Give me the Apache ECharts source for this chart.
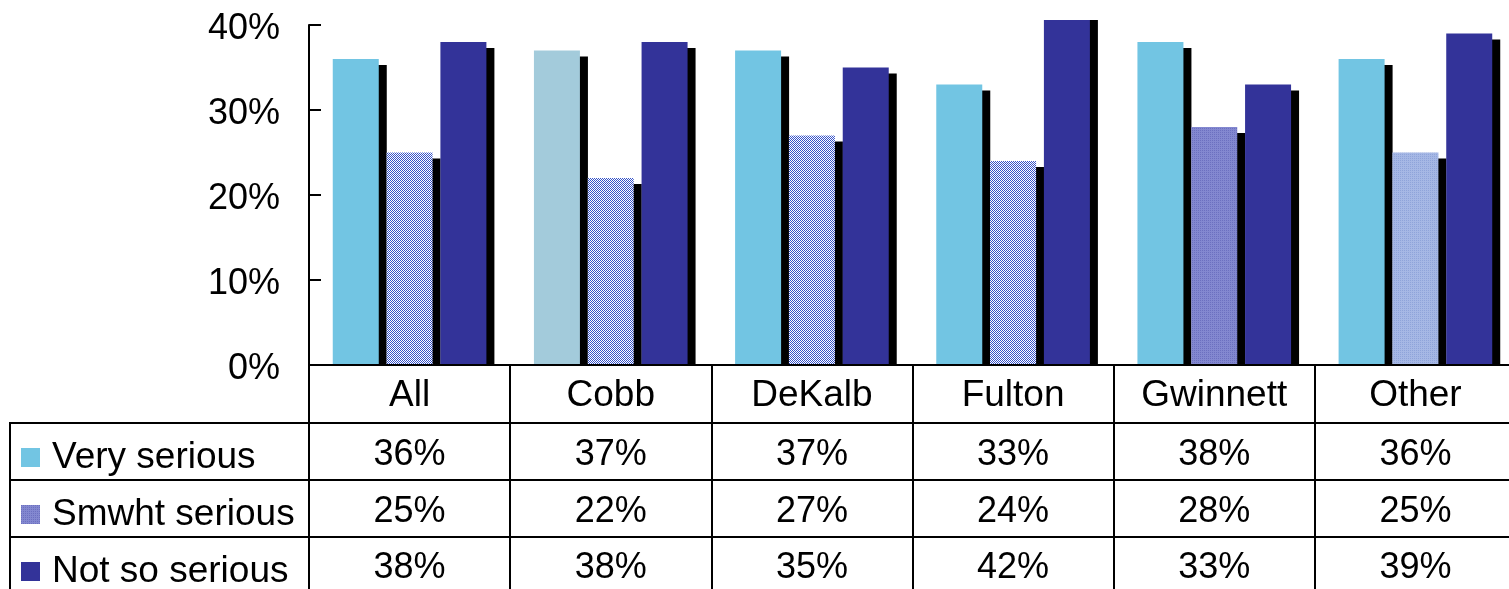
<!DOCTYPE html>
<html>
<head>
<meta charset="utf-8">
<script src="https://cdn.jsdelivr.net/npm/echarts@6/dist/echarts.min.js"></script>
<style>
html,body{margin:0;padding:0;background:#fff;}
#c{width:1509px;height:589px;}
</style>
</head>
<body>
<div id="c"></div>
<script>
const categories = ['All', 'Cobb', 'DeKalb', 'Fulton', 'Gwinnett', 'Other'];
const seriesNames = ['Very serious', 'Smwht serious', 'Not so serious'];
const verySerious = [36, 37, 37, 33, 38, 36];
const smwhtSerious = [25, 22, 27, 24, 28, 25];
const notSoSerious = [38, 38, 35, 42, 33, 39];
const yMin = 0, yMax = 40, yInterval = 10;

const FONT = "'Liberation Sans', Arial, sans-serif";

function pattern(c1, c2, c3, c4) {
  const cv = document.createElement('canvas');
  cv.width = 2; cv.height = 2;
  const ctx = cv.getContext('2d');
  ctx.fillStyle = c1; ctx.fillRect(0, 0, 1, 1);
  ctx.fillStyle = c2; ctx.fillRect(1, 0, 1, 1);
  ctx.fillStyle = c3; ctx.fillRect(0, 1, 1, 1);
  ctx.fillStyle = c4; ctx.fillRect(1, 1, 1, 1);
  return { image: cv, repeat: 'repeat' };
}
const checkBlue = pattern('#3552c8', '#ffffff', '#ffffff', '#3552c8');
const gridLav = pattern('#6c70c0', '#8388d0', '#8388d0', '#8388d0');
const gridLight = pattern('#8fa4da', '#a6b8e5', '#a6b8e5', '#a6b8e5');

const vsColors = ['#72c5e3', '#a3cbdb', '#72c5e3', '#72c5e3', '#72c5e3', '#72c5e3'];
const swColors = [checkBlue, checkBlue, checkBlue, checkBlue, gridLav, gridLight];
const nsColor = '#333399';

const shadow = { shadowColor: '#000', shadowOffsetX: 8, shadowOffsetY: 6, shadowBlur: 0 };

const chart = echarts.init(document.getElementById('c'), null, { renderer: 'canvas' });

const option = {
  animation: false,
  textStyle: { fontFamily: FONT },
  grid: { left: 309, top: 25, width: 1207, height: 340, containLabel: false, outerBoundsMode: 'none' },
  legend: {
    orient: 'vertical', left: 21, top: 429, height: 200, padding: 0, itemGap: 0,
    itemWidth: 19, itemHeight: 19, icon: 'rect', selectedMode: false,
    textStyle: { fontSize: 37, lineHeight: 57, color: '#000', fontFamily: FONT, padding: [0, 0, 0, 7] },
    itemStyle: { shadowBlur: 0, shadowOffsetX: 0, shadowOffsetY: 0, shadowColor: 'rgba(0,0,0,0)', borderWidth: 0 },
    data: [
      { name: seriesNames[0], itemStyle: { color: '#72c5e3' } },
      { name: seriesNames[1], itemStyle: { color: gridLav } },
      { name: seriesNames[2], itemStyle: { color: nsColor } }
    ]
  },
  xAxis: {
    type: 'category',
    data: categories,
    z: 10,
    axisLine: { show: true, lineStyle: { color: '#000', width: 2 } },
    axisTick: { show: true, alignWithLabel: false, interval: 0, length: 224, lineStyle: { color: '#000', width: 2 } },
    axisLabel: {
      interval: 0, margin: 0, color: '#000', fontFamily: FONT,
      formatter: function (v, i) {
        return ['{c|' + v + '}', '{n|' + verySerious[i] + '%}', '{n|' + smwhtSerious[i] + '%}', '{n|' + notSoSerious[i] + '%}'].join('\n');
      },
      rich: {
        c: { fontSize: 37, lineHeight: 62, color: '#000', fontFamily: FONT },
        n: { fontSize: 36, lineHeight: 56.5, color: '#000', fontFamily: FONT }
      }
    },
    splitLine: { show: false }
  },
  yAxis: {
    type: 'value', min: yMin, max: yMax, interval: yInterval, z: 10,
    axisLine: { show: true, lineStyle: { color: '#000', width: 2 } },
    axisTick: { show: true, inside: true, length: 12, lineStyle: { color: '#000', width: 2 } },
    axisLabel: { formatter: '{value}%', fontSize: 36, margin: 29, color: '#000', fontFamily: FONT, verticalAlign: 'top', lineHeight: 9 },
    splitLine: { show: false }
  },
  series: [
    {
      name: seriesNames[0], type: 'bar', barWidth: 46, barGap: '17%', clip: false,
      itemStyle: Object.assign({ color: '#72c5e3' }, shadow),
      data: verySerious.map((v, i) => ({ value: v, itemStyle: { color: vsColors[i] } }))
    },
    {
      name: seriesNames[1], type: 'bar', barWidth: 46, barGap: '17%', clip: false,
      itemStyle: Object.assign({ color: checkBlue }, shadow),
      data: smwhtSerious.map((v, i) => ({ value: v, itemStyle: { color: swColors[i] } }))
    },
    {
      name: seriesNames[2], type: 'bar', barWidth: 46, barGap: '17%', clip: false,
      itemStyle: Object.assign({ color: nsColor }, shadow),
      data: notSoSerious
    }
  ],
  graphic: {
    elements: [
      { type: 'rect', z: 5, silent: true, shape: { x: 310, y: 0, width: 1199, height: 20 }, style: { fill: '#fff' } },
      { type: 'rect', z: 5, silent: true, shape: { x: 310, y: 366, width: 1199, height: 56 }, style: { fill: '#fff' } },
      { type: 'line', z: 20, silent: true, shape: { x1: 10, y1: 423, x2: 1509, y2: 423 }, style: { stroke: '#000', lineWidth: 2 } },
      { type: 'line', z: 20, silent: true, shape: { x1: 10, y1: 480, x2: 1509, y2: 480 }, style: { stroke: '#000', lineWidth: 2 } },
      { type: 'line', z: 20, silent: true, shape: { x1: 10, y1: 537, x2: 1509, y2: 537 }, style: { stroke: '#000', lineWidth: 2 } },
      { type: 'line', z: 20, silent: true, shape: { x1: 10, y1: 422, x2: 10, y2: 589 }, style: { stroke: '#000', lineWidth: 2 } }
    ]
  }
};
chart.setOption(option);
</script>
</body>
</html>
